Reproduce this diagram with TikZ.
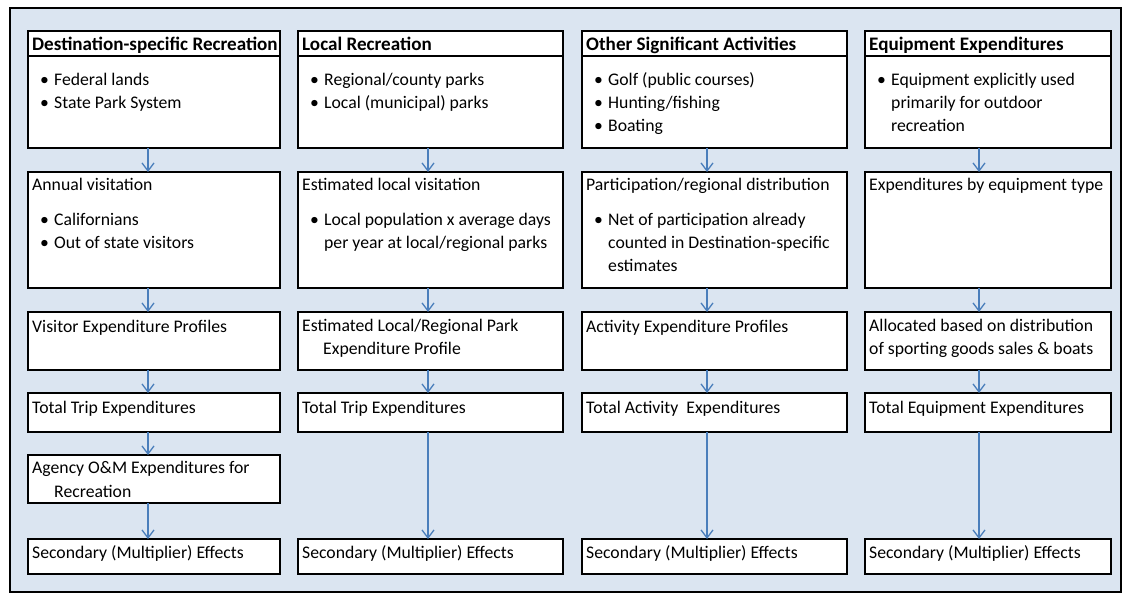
\documentclass[tikz,border=0pt]{standalone}
\usepackage{fontspec}
\setmainfont{Carlito}
\usetikzlibrary{arrows.meta}
\definecolor{bgblue}{HTML}{DBE5F1}
\definecolor{arrblue}{HTML}{4A7EBB}
\newcommand\mkbox[5]{\node[box, minimum width={#4pt-#2pt}, minimum height={#5pt-#3pt}] (#1) at (#2,#3) {};}
\newcommand\tl[4]{\node[txt] (#1) at (#2,#3) {#4};}
\newcommand\hl[4]{\node[hd] (#1) at (#2,#3) {#4};}
\newcommand\bl[4]{\node[txt] (#1d) at ({#2+12},#3) {\textbullet};\node[txt] (#1) at ({#2+26},#3) {#4};}
\begin{document}
\begin{tikzpicture}[x=1pt,y=-1pt,
  box/.style={draw=black, fill=white, line width=1.6pt, rectangle, inner sep=0pt, outer sep=0pt, anchor=north west},
  txt/.style={anchor=base west, inner sep=0pt, font=\fontsize{17.7}{21}\selectfont},
  hd/.style={txt, font=\fontsize{19.1}{22}\selectfont\bfseries},
  arr/.style={draw=arrblue, line width=1.3pt, -{Straight Barb[length=8pt,width=12pt]}}]
\useasboundingbox (0,0) rectangle (1124,595);
\draw[fill=bgblue, line width=1.5pt] (10,8) rectangle (1121,592);
% column x positions
\coordinate (a1) at (148,0);
\coordinate (a2) at (428,0);
\coordinate (a3) at (707,0);
\coordinate (a4) at (979,0);
% ---------- Column 1
\mkbox{h1}{28}{31}{280}{56}
\mkbox{b1}{28}{56}{280}{148}
\mkbox{r2a}{28}{172}{280}{288}
\mkbox{r3a}{28}{312}{280}{370}
\mkbox{r4a}{28}{393}{280}{432}
\mkbox{r5a}{28}{455}{280}{503}
\mkbox{r6a}{28}{539}{280}{574}
\hl{t1}{32}{50}{Destination-specific Recreation}
\bl{t1a}{28}{85}{Federal lands}
\bl{t1b}{28}{108}{State Park System}
\tl{t1c}{32}{190}{Annual visitation}
\bl{t1d}{28}{225}{Californians}
\bl{t1e}{28}{248}{Out of state visitors}
\tl{t1f}{32}{332}{Visitor Expenditure Profiles}
\tl{t1g}{32}{413}{Total Trip Expenditures}
\tl{t1h}{32}{473}{Agency O\&M Expenditures for}
\tl{t1i}{54}{497}{Recreation}
\tl{t1j}{32}{558}{Secondary (Multiplier) Effects}
% ---------- Column 2
\mkbox{h2}{298}{31}{563}{56}
\mkbox{b2}{298}{56}{563}{148}
\mkbox{r2b}{298}{172}{563}{288}
\mkbox{r3b}{298}{312}{563}{370}
\mkbox{r4b}{298}{393}{563}{432}
\mkbox{r6b}{298}{539}{563}{574}
\hl{t2}{302}{50}{Local Recreation}
\bl{t2a}{298}{85}{Regional/county parks}
\bl{t2b}{298}{108}{Local (municipal) parks}
\tl{t2c}{302}{190}{Estimated local visitation}
\bl{t2d}{298}{225}{Local population x average days}
\tl{t2e}{324}{248}{per year at local/regional parks}
\tl{t2f}{302}{331}{Estimated Local/Regional Park}
\tl{t2g}{323}{354}{Expenditure Profile}
\tl{t2h}{302}{413}{Total Trip Expenditures}
\tl{t2j}{302}{558}{Secondary (Multiplier) Effects}
% ---------- Column 3
\mkbox{h3}{582}{31}{847}{56}
\mkbox{b3}{582}{56}{847}{148}
\mkbox{r2c}{582}{172}{847}{288}
\mkbox{r3c}{582}{312}{847}{370}
\mkbox{r4c}{582}{393}{847}{432}
\mkbox{r6c}{582}{539}{847}{574}
\hl{t3}{586}{50}{Other Significant Activities}
\bl{t3a}{582}{85}{Golf (public courses)}
\bl{t3b}{582}{108}{Hunting/fishing}
\bl{t3c}{582}{131}{Boating}
\tl{t3d}{586}{190}{Participation/regional distribution}
\bl{t3e}{582}{225}{Net of participation already}
\tl{t3f}{608}{248}{counted in Destination-specific}
\tl{t3g}{608}{271}{estimates}
\tl{t3h}{586}{332}{Activity Expenditure Profiles}
\tl{t3i}{586}{413}{Total Activity\ \ Expenditures}
\tl{t3j}{586}{558}{Secondary (Multiplier) Effects}
% ---------- Column 4
\mkbox{h4}{865}{31}{1111}{56}
\mkbox{b4}{865}{56}{1111}{148}
\mkbox{r2d}{865}{172}{1111}{288}
\mkbox{r3d}{865}{312}{1111}{370}
\mkbox{r4d}{865}{393}{1111}{432}
\mkbox{r6d}{865}{539}{1111}{574}
\hl{t4}{869}{50}{Equipment Expenditures}
\bl{t4a}{865}{85}{Equipment explicitly used}
\tl{t4b}{891}{108}{primarily for outdoor}
\tl{t4c}{891}{131}{recreation}
\tl{t4d}{869}{190}{Expenditures by equipment type}
\tl{t4e}{869}{331}{Allocated based on distribution}
\tl{t4f}{869}{354}{of sporting goods sales \& boats}
\tl{t4g}{869}{413}{Total Equipment Expenditures}
\tl{t4h}{869}{558}{Secondary (Multiplier) Effects}
% ---------- Arrows
\draw[arr] (b1.south -| a1) -- (r2a.north -| a1);
\draw[arr] (r2a.south -| a1) -- (r3a.north -| a1);
\draw[arr] (r3a.south -| a1) -- (r4a.north -| a1);
\draw[arr] (r4a.south -| a1) -- (r5a.north -| a1);
\draw[arr] (r5a.south -| a1) -- (r6a.north -| a1);
\draw[arr] (b2.south -| a2) -- (r2b.north -| a2);
\draw[arr] (r2b.south -| a2) -- (r3b.north -| a2);
\draw[arr] (r3b.south -| a2) -- (r4b.north -| a2);
\draw[arr] (r4b.south -| a2) -- (r6b.north -| a2);
\draw[arr] (b3.south -| a3) -- (r2c.north -| a3);
\draw[arr] (r2c.south -| a3) -- (r3c.north -| a3);
\draw[arr] (r3c.south -| a3) -- (r4c.north -| a3);
\draw[arr] (r4c.south -| a3) -- (r6c.north -| a3);
\draw[arr] (b4.south -| a4) -- (r2d.north -| a4);
\draw[arr] (r2d.south -| a4) -- (r3d.north -| a4);
\draw[arr] (r3d.south -| a4) -- (r4d.north -| a4);
\draw[arr] (r4d.south -| a4) -- (r6d.north -| a4);
\end{tikzpicture}
\end{document}
